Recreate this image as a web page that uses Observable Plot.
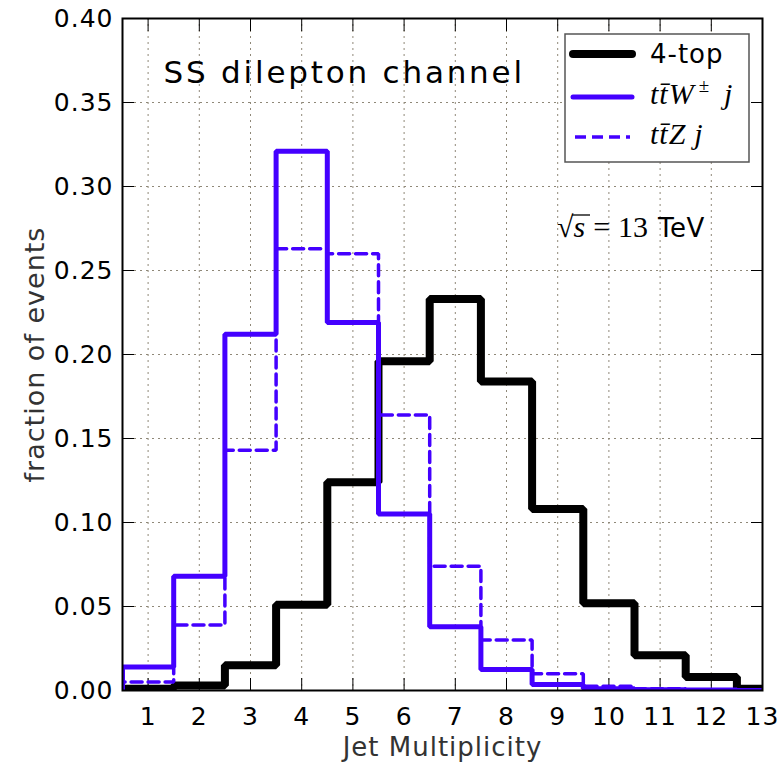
<!DOCTYPE html>
<html>
<head>
<meta charset="utf-8">
<script src="https://cdn.jsdelivr.net/npm/d3@7"></script>
<script src="https://cdn.jsdelivr.net/npm/@observablehq/plot@0.6"></script>
<style>
  body { margin: 0; background: white; }
  #wrap { position: relative; width: 783px; height: 765px; }
  #overlay { position: absolute; left: 0; top: 0; pointer-events: none; }
</style>
</head>
<body>
<div id="wrap"></div>
<script>
// Jet multiplicity bins
const bins = [1, 2, 3, 4, 5, 6, 7, 8, 9, 10, 11, 12, 13];
// fraction of events per bin
const fourTop = [0.001, 0.003, 0.015, 0.051, 0.124, 0.196, 0.233, 0.184, 0.108, 0.052, 0.021, 0.008, 0.001];
const ttW     = [0.014, 0.068, 0.212, 0.321, 0.219, 0.105, 0.038, 0.0125, 0.0035, 0.001, 0.0005, 0.0003, 0];
const ttZ     = [0.005, 0.039, 0.143, 0.263, 0.260, 0.164, 0.074, 0.030, 0.010, 0.0025, 0.001, 0.0003, 0];
const xTicks = [1, 2, 3, 4, 5, 6, 7, 8, 9, 10, 11, 12, 13];
const yTicks = [0, 0.05, 0.10, 0.15, 0.20, 0.25, 0.30, 0.35, 0.40];
const seriesNames = ["4-top", "ttW", "ttZ"];

// step outline like a histtype="step" histogram
function outline(vals) {
  const pts = [{x: bins[0] - 0.5, y: 0}];
  bins.forEach((b, i) => {
    pts.push({x: b - 0.5, y: vals[i]});
    pts.push({x: b + 0.5, y: vals[i]});
  });
  pts.push({x: bins[bins.length - 1] + 0.5, y: 0});
  return pts;
}

const blue = "#4400ff";
const gridColor = "#8f8878";

const chart = Plot.plot({
  width: 783,
  height: 765,
  marginLeft: 122,
  marginRight: 21,
  marginTop: 18,
  marginBottom: 75,
  style: {fontFamily: "DejaVu Sans", fontSize: "25px", letterSpacing: "1px", background: "white", color: "black", overflow: "visible"},
  x: {domain: [0.5, 13]},
  y: {domain: [0, 0.4]},
  marks: [
    Plot.gridX(xTicks, {stroke: gridColor, strokeOpacity: 1, strokeDasharray: "2,4"}),
    Plot.gridY(yTicks, {stroke: gridColor, strokeOpacity: 1, strokeDasharray: "2,4"}),
    // inward ticks on all four sides
    Plot.axisY(yTicks, {anchor: "left", tickSize: 12, dx: 12, tickFormat: () => "", label: null, strokeWidth: 1}),
    Plot.axisY(yTicks, {anchor: "right", tickSize: 12, dx: -12, tickFormat: () => "", label: null, strokeWidth: 1}),
    Plot.axisX(xTicks, {anchor: "bottom", tickSize: 12, dy: -12, tickFormat: () => "", label: null, strokeWidth: 1}),
    Plot.axisX(xTicks, {anchor: "top", tickSize: 12, dy: 12, tickFormat: () => "", label: null, strokeWidth: 1}),
    // tick labels
    Plot.text(yTicks, {y: d => d, text: d => d.toFixed(2), frameAnchor: "left", dx: -9, textAnchor: "end", lineAnchor: "middle", fontSize: 25}),
    Plot.text(xTicks, {x: d => d, text: d => String(d), frameAnchor: "bottom", dy: 26, dx: 0, textAnchor: "middle", lineAnchor: "middle", fontSize: 25}),
    // histograms
    Plot.line(outline(fourTop), {x: "x", y: "y", stroke: "black", strokeWidth: 8, strokeLinejoin: "miter", clip: true}),
    Plot.line(outline(ttW), {x: "x", y: "y", stroke: blue, strokeWidth: 5, strokeLinejoin: "miter", clip: true}),
    Plot.line(outline(ttZ), {x: "x", y: "y", stroke: blue, strokeWidth: 3.5, strokeDasharray: "11,6", strokeLinejoin: "miter", clip: true}),
    Plot.frame({stroke: "black", strokeWidth: 2}),
    // axis titles
    Plot.text(["Jet Multiplicity"], {text: d => d, frameAnchor: "bottom", dy: 57, textAnchor: "middle", lineAnchor: "middle", fontSize: 26, fill: "#333"}),
    Plot.text(["fraction of events"], {text: d => d, frameAnchor: "left", dx: -87, rotate: -90, textAnchor: "middle", lineAnchor: "middle", fontSize: 27, fill: "#333"}),
    // panel title
    Plot.text(["SS dilepton channel"], {text: d => d, frameAnchor: "top-left", dx: 41, dy: 55, textAnchor: "start", lineAnchor: "middle", fontSize: 31})
  ]
});

const wrap = document.getElementById("wrap");
wrap.appendChild(chart);
chart.querySelectorAll("text").forEach(t => {
  if (t.textContent === "SS dilepton channel") t.setAttribute("style", "letter-spacing: 2.8px");
});

// legend + energy annotation overlay
const ns = "http://www.w3.org/2000/svg";
const ov = document.createElementNS(ns, "svg");
ov.setAttribute("id", "overlay");
ov.setAttribute("width", 783);
ov.setAttribute("height", 765);
ov.innerHTML = `
  <rect x="565" y="34" width="184" height="128" fill="white" stroke="#555" stroke-width="1.5"/>
  <line x1="573" x2="632" y1="54" y2="54" stroke="black" stroke-width="8" stroke-linecap="round"/>
  <line x1="573" x2="632" y1="97" y2="97" stroke="${blue}" stroke-width="5" stroke-linecap="round"/>
  <line x1="575" x2="630" y1="137" y2="137" stroke="${blue}" stroke-width="3.5" stroke-dasharray="11,6"/>
  <text x="650" y="63" font-family="DejaVu Sans" font-size="26" letter-spacing="1">${seriesNames[0]}</text>
  <text x="650" y="104" font-family="Liberation Serif" font-size="30" font-style="italic" letter-spacing="1">tt̄W<tspan font-size="19" font-style="normal" dy="-12" dx="4">±</tspan><tspan dy="12" dx="14">j</tspan></text>
  <text x="650" y="144" font-family="Liberation Serif" font-size="30" font-style="italic" letter-spacing="1">tt̄Z<tspan dx="8">j</tspan></text>
  <text x="557" y="237" font-family="Liberation Serif" font-size="30">√<tspan font-style="italic">s</tspan><tspan dx="8">=</tspan><tspan dx="8">13</tspan><tspan font-family="DejaVu Sans" font-size="26" dx="10" letter-spacing="0.5">TeV</tspan></text>
  <line x1="572" x2="590" y1="215" y2="215" stroke="black" stroke-width="1.3"/>
`;
wrap.appendChild(ov);
</script>
</body>
</html>
